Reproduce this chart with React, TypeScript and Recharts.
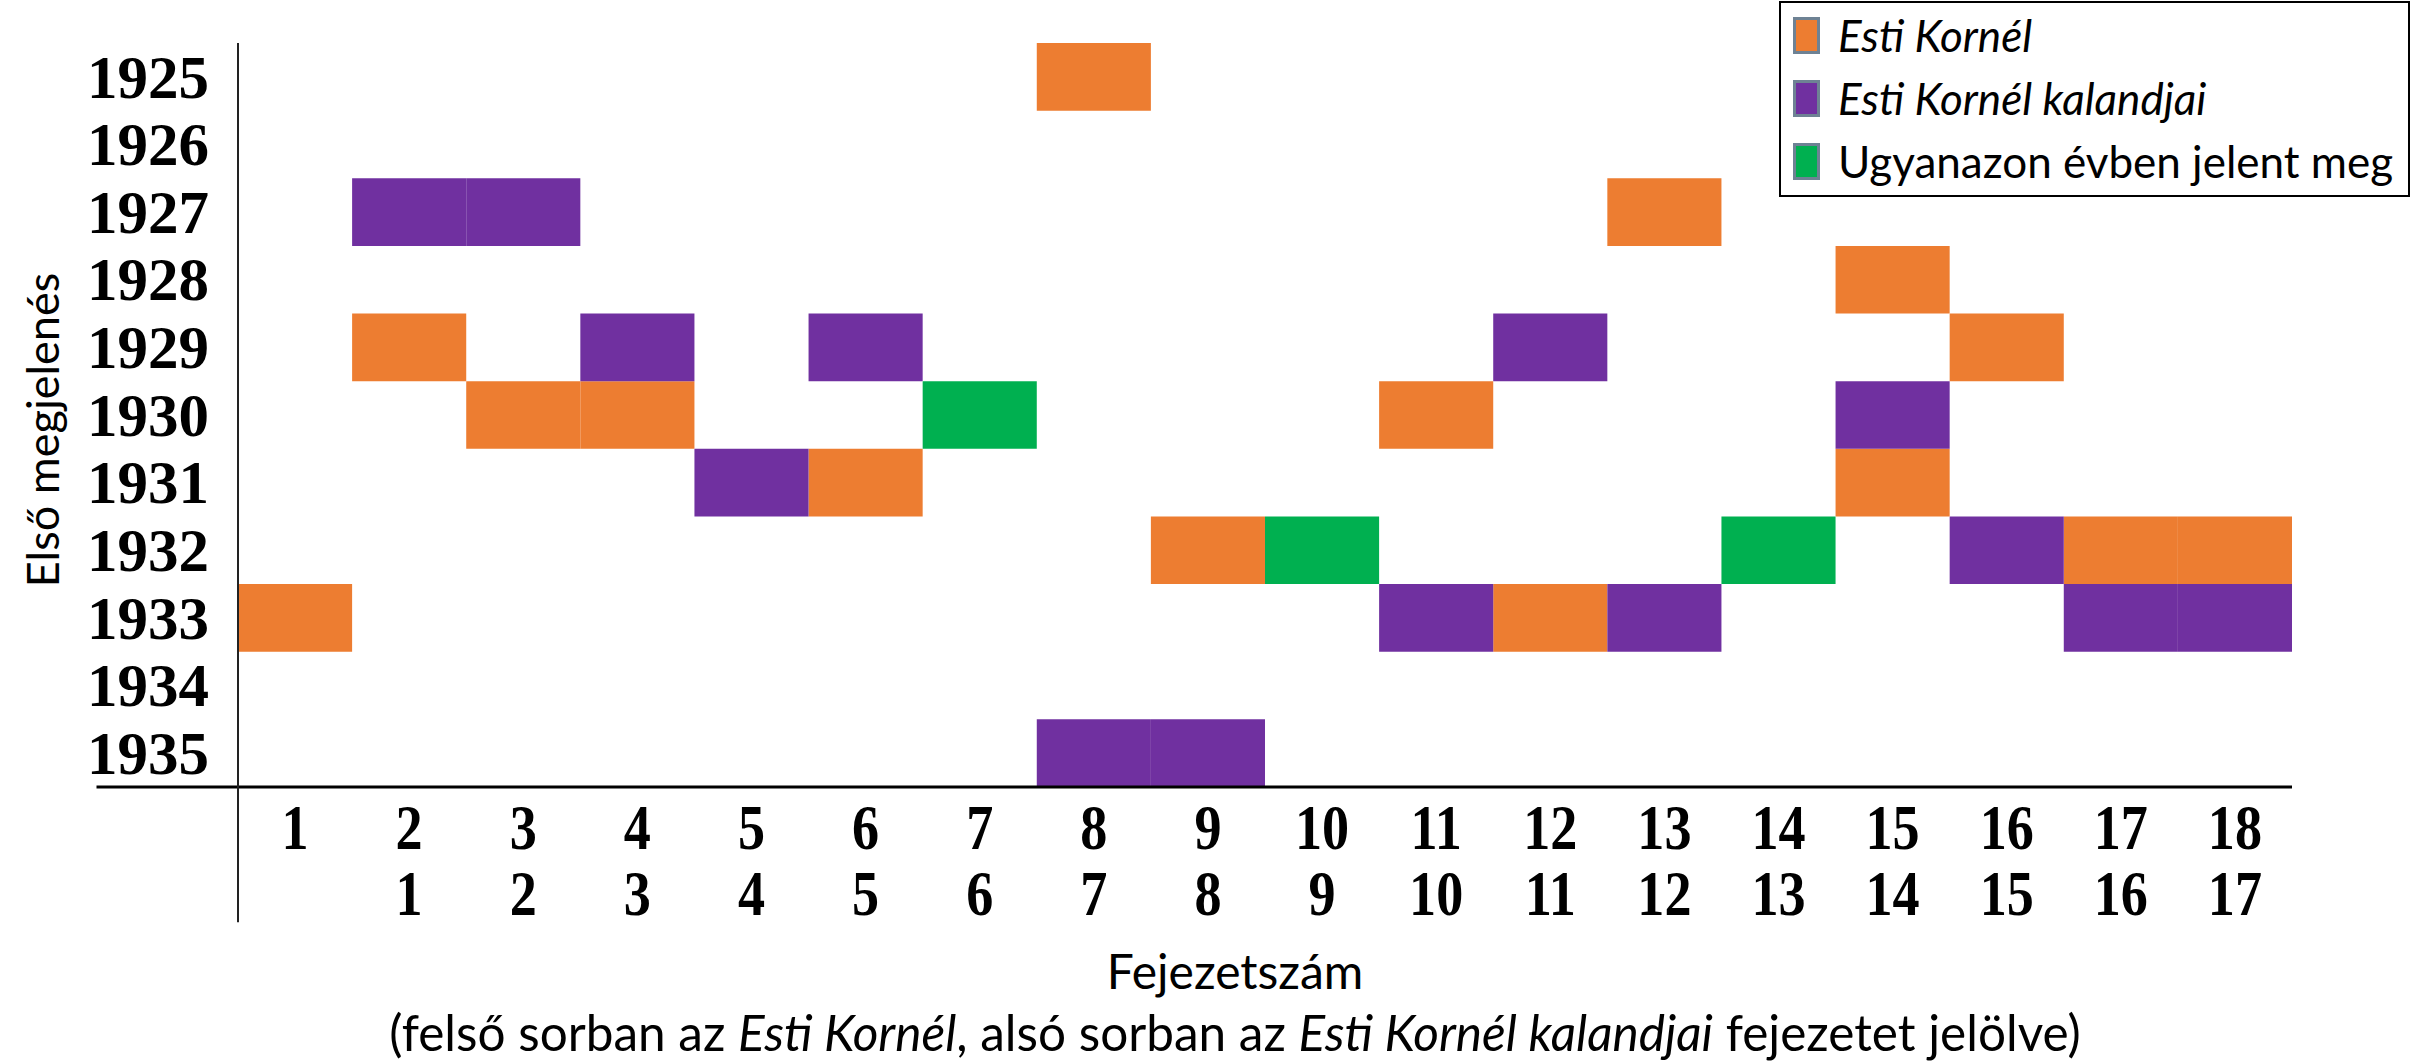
import { ComposedChart, XAxis, YAxis, Scatter, ReferenceArea, ReferenceLine, Label } from 'recharts';

// évek (függőleges tengely) és fejezetszámok (két sor a vízszintes tengelyen)
const years = [1925, 1926, 1927, 1928, 1929, 1930, 1931, 1932, 1933, 1934, 1935];
const chapters = [1, 2, 3, 4, 5, 6, 7, 8, 9, 10, 11, 12, 13, 14, 15, 16, 17, 18];
const kalandjaiLabels = ['', '1', '2', '3', '4', '5', '6', '7', '8', '9', '10', '11', '12', '13', '14', '15', '16', '17'];

// cellák: melyik fejezet melyik évben jelent meg először
const estiKornelCells = [
  { chapter: 1, year: 1933 },
  { chapter: 2, year: 1929 },
  { chapter: 3, year: 1930 },
  { chapter: 4, year: 1930 },
  { chapter: 6, year: 1931 },
  { chapter: 8, year: 1925 },
  { chapter: 9, year: 1932 },
  { chapter: 11, year: 1930 },
  { chapter: 12, year: 1933 },
  { chapter: 13, year: 1927 },
  { chapter: 15, year: 1928 },
  { chapter: 15, year: 1931 },
  { chapter: 16, year: 1929 },
  { chapter: 17, year: 1932 },
  { chapter: 18, year: 1932 },
];

const kalandjaiCells = [
  { chapter: 2, year: 1927 },
  { chapter: 3, year: 1927 },
  { chapter: 4, year: 1929 },
  { chapter: 5, year: 1931 },
  { chapter: 6, year: 1929 },
  { chapter: 8, year: 1935 },
  { chapter: 9, year: 1935 },
  { chapter: 11, year: 1933 },
  { chapter: 12, year: 1929 },
  { chapter: 13, year: 1933 },
  { chapter: 15, year: 1930 },
  { chapter: 16, year: 1932 },
  { chapter: 17, year: 1933 },
  { chapter: 18, year: 1933 },
];

const sameYearCells = [
  { chapter: 7, year: 1930 },
  { chapter: 10, year: 1932 },
  { chapter: 14, year: 1932 },
];

const SERIES = [
  { name: 'Esti Kornél', italic: true, color: '#ED7D31', cells: estiKornelCells },
  { name: 'Esti Kornél kalandjai', italic: true, color: '#7030A0', cells: kalandjaiCells },
  { name: 'Ugyanazon évben jelent meg', italic: false, color: '#00B050', cells: sameYearCells },
];

const W = 2412;
const H = 1062;
const SANS = 'Lato, "Open Sans", sans-serif';
const SERIF = '"Liberation Serif", "Times New Roman", serif';

const xMin = chapters[0] - 0.5;
const xMax = chapters[chapters.length - 1] + 0.5;
const yMin = years[0] - 0.5;
const yMax = years[years.length - 1] + 0.5;
// a tengelyvonalak túlnyúlnak a rajzterületen (táblázatszerű keret)
const xLineStart = xMin - 1.24;
const yLineEnd = yMax + 2;
const boundaries = chapters.slice(0, -1).map((c) => c + 0.5);

function YearTick({ x, y, payload }: any) {
  return (
    <text x={x} y={y} dy="0.34em" textAnchor="end" fontFamily={SERIF} fontWeight="bold" fontSize={61} fill="#000">
      {payload.value}
    </text>
  );
}

function ChapterTick({ x, y, payload }: any) {
  const i = chapters.indexOf(payload.value);
  return (
    <g transform={`translate(${x},${y})`}>
      <g transform="scale(0.86,1)">
        <text x={0} y={62} textAnchor="middle" fontFamily={SERIF} fontWeight="bold" fontSize={63} fill="#000">
          {chapters[i]}
        </text>
        <text x={0} y={128} textAnchor="middle" fontFamily={SERIF} fontWeight="bold" fontSize={63} fill="#000">
          {kalandjaiLabels[i]}
        </text>
      </g>
    </g>
  );
}

function XTitle({ viewBox }: any) {
  const cx = viewBox.x + viewBox.width / 2 - 30;
  return (
    <g fontFamily={SANS} fill="#000">
      <text x={cx} y={viewBox.y + 202} textAnchor="middle" fontSize={48}>
        Fejezetszám
      </text>
      <text x={cx} y={viewBox.y + 264} textAnchor="middle" fontSize={49.5}>
        (felső sorban az <tspan fontStyle="italic">Esti Kornél</tspan>, alsó sorban az{' '}
        <tspan fontStyle="italic">Esti Kornél kalandjai</tspan> fejezetet jelölve)
      </text>
    </g>
  );
}

function YTitle({ viewBox }: any) {
  const cy = viewBox.y + viewBox.height / 2 + 15;
  return (
    <text
      x={59}
      y={cy}
      transform={`rotate(-90, 59, ${cy})`}
      textAnchor="middle"
      fontFamily={SANS}
      fontSize={45}
      fill="#000"
    >
      Első megjelenés
    </text>
  );
}

function LegendBox() {
  return (
    <div
      style={{
        position: 'absolute',
        left: 1779,
        top: 1,
        width: 631,
        height: 196,
        boxSizing: 'border-box',
        border: '2px solid #000',
        background: '#fff',
        fontFamily: SANS,
        fontSize: 44,
        color: '#000',
      }}
    >
      {SERIES.map((s, i) => (
        <div
          key={s.name}
          style={{ position: 'absolute', left: 12, top: 2 + i * 63, height: 60, display: 'flex', alignItems: 'center' }}
        >
          <div
            style={{
              width: 27,
              height: 37,
              boxSizing: 'border-box',
              border: '3px solid #6E8294',
              background: s.color,
              marginRight: 18,
            }}
          />
          <span style={{ fontStyle: s.italic ? 'italic' : 'normal', whiteSpace: 'nowrap' }}>{s.name}</span>
        </div>
      ))}
    </div>
  );
}

export default function App() {
  return (
    <div style={{ position: 'absolute', left: 0, top: 0, width: W, height: H, background: '#fff' }}>
      <ComposedChart width={W} height={H} margin={{ top: 43, right: 120, bottom: 0, left: 0 }}>
        <XAxis
          xAxisId={0}
          type="number"
          dataKey="chapter"
          domain={[xMin, xMax]}
          ticks={chapters}
          interval={0}
          axisLine={false}
          tickLine={false}
          tickSize={0}
          tickMargin={0}
          height={275}
          tick={<ChapterTick />}
        >
          <Label content={<XTitle />} />
        </XAxis>
        <XAxis
          xAxisId="bounds"
          type="number"
          domain={[xMin, xMax]}
          ticks={boundaries}
          interval={0}
          mirror
          height={0}
          axisLine={false}
          tickSize={6}
          tickLine={{ stroke: '#000', strokeWidth: 2 }}
          tick={() => <g />}
        />
        <YAxis
          type="number"
          dataKey="year"
          domain={[yMin, yMax]}
          reversed
          ticks={years}
          interval={0}
          axisLine={false}
          tickLine={false}
          tickSize={0}
          tickMargin={29}
          width={238}
          tick={<YearTick />}
        >
          <Label content={<YTitle />} />
        </YAxis>

        {SERIES.map((s) =>
          s.cells.map((c, j) => (
            <ReferenceArea
              key={`${s.name}-${j}`}
              x1={c.chapter - 0.5}
              x2={c.chapter + 0.5}
              y1={c.year - 0.5}
              y2={c.year + 0.5}
              fill={s.color}
              fillOpacity={1}
              stroke="none"
            />
          ))
        )}
        {SERIES.map((s) => (
          <Scatter key={s.name} name={s.name} data={s.cells} fill={s.color} shape={() => <g />} isAnimationActive={false} />
        ))}

        <ReferenceLine
          segment={[{ x: xLineStart, y: yMax }, { x: xMax, y: yMax }]}
          stroke="#000"
          strokeWidth={3}
          ifOverflow="visible"
        />
        <ReferenceLine
          segment={[{ x: xMin, y: yMin }, { x: xMin, y: yLineEnd }]}
          stroke="#222"
          strokeWidth={2}
          ifOverflow="visible"
        />
      </ComposedChart>
      <LegendBox />
    </div>
  );
}
